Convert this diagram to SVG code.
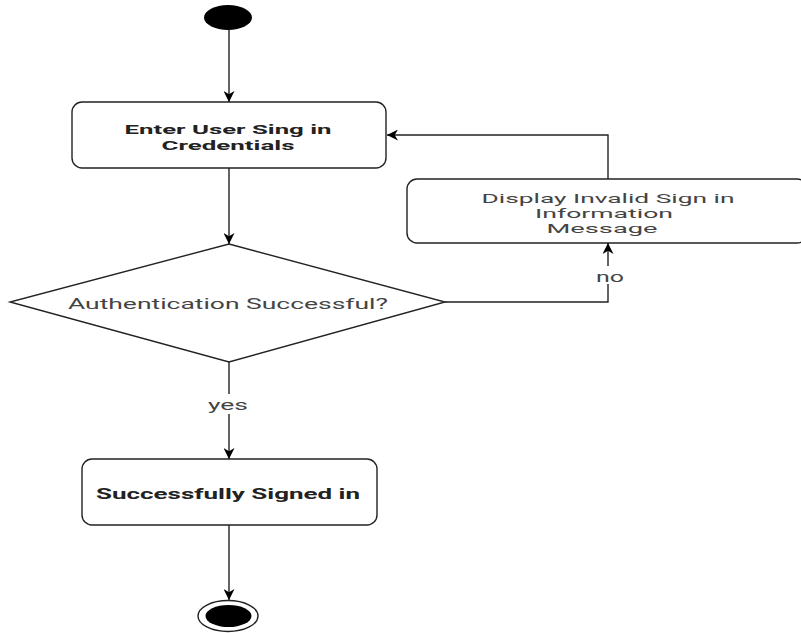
<svg xmlns="http://www.w3.org/2000/svg" width="801" height="633" viewBox="0 0 801 633">
<defs>
<marker id="arr" viewBox="0 0 10 10" refX="10" refY="5" markerWidth="11" markerHeight="11" markerUnits="userSpaceOnUse" orient="auto">
<path d="M0,0 L10,5 L0,10 L3,5 Z" fill="#000"/>
</marker>
</defs>
<style>
.box{fill:#fff;stroke:#222;stroke-width:1.4}
.ln{fill:none;stroke:#222;stroke-width:1.4;marker-end:url(#arr)}
.t{font-family:Roboto,"Liberation Sans",sans-serif;font-size:15px;fill:#444;text-anchor:middle}
.s{font-size:13.5px}
.b{font-weight:bold;fill:#222}
</style>
<rect width="801" height="633" fill="#fff"/>
<g id="connectors">
<line class="ln" x1="229" y1="30" x2="229" y2="102"/>
<line class="ln" x1="229" y1="168" x2="229" y2="244"/>
<polyline class="ln" points="445,302 608,302 608,243"/>
<polyline class="ln" points="608,179 608,135 387,135"/>
<line class="ln" x1="229" y1="362" x2="229" y2="459"/>
<line class="ln" x1="229" y1="525" x2="229" y2="600"/>
<rect x="596" y="266" width="24" height="18" fill="#fff"/>
<text class="t" x="610" y="282" textLength="28" lengthAdjust="spacingAndGlyphs">no</text>
<rect x="205" y="394" width="46" height="20" fill="#fff"/>
<text class="t" x="228" y="410" textLength="40" lengthAdjust="spacingAndGlyphs">yes</text>
</g>
<g id="start">
<ellipse cx="228" cy="17.5" rx="24" ry="12.5" fill="#000"/>
</g>
<g id="enter">
<rect class="box" x="72" y="102" width="314" height="66" rx="10"/>
<text class="t b s" x="228" y="134" textLength="207" lengthAdjust="spacingAndGlyphs">Enter User Sing in</text>
<text class="t b s" x="228" y="150" textLength="133" lengthAdjust="spacingAndGlyphs">Credentials</text>
</g>
<g id="display">
<rect class="box" x="407" y="179" width="400" height="64" rx="10"/>
<text class="t s" x="608" y="203" textLength="253" lengthAdjust="spacingAndGlyphs">Display Invalid Sign in</text>
<text class="t s" x="604" y="218" textLength="138" lengthAdjust="spacingAndGlyphs">Information</text>
<text class="t s" x="602" y="233" textLength="111" lengthAdjust="spacingAndGlyphs">Message</text>
</g>
<g id="decision">
<polygon class="box" points="229,244 445,302 229,362 10,302"/>
<text class="t" x="228" y="309" textLength="320" lengthAdjust="spacingAndGlyphs">Authentication Successful?</text>
</g>
<g id="success">
<rect class="box" x="82" y="459" width="295" height="66" rx="10"/>
<text class="t b" x="228" y="499" textLength="264" lengthAdjust="spacingAndGlyphs">Successfully Signed in</text>
</g>
<g id="end">
<ellipse cx="228" cy="616" rx="30" ry="15.5" fill="#fff" stroke="#222" stroke-width="1.4"/>
<ellipse cx="228.5" cy="616" rx="23" ry="11" fill="#000"/>
</g>
</svg>
